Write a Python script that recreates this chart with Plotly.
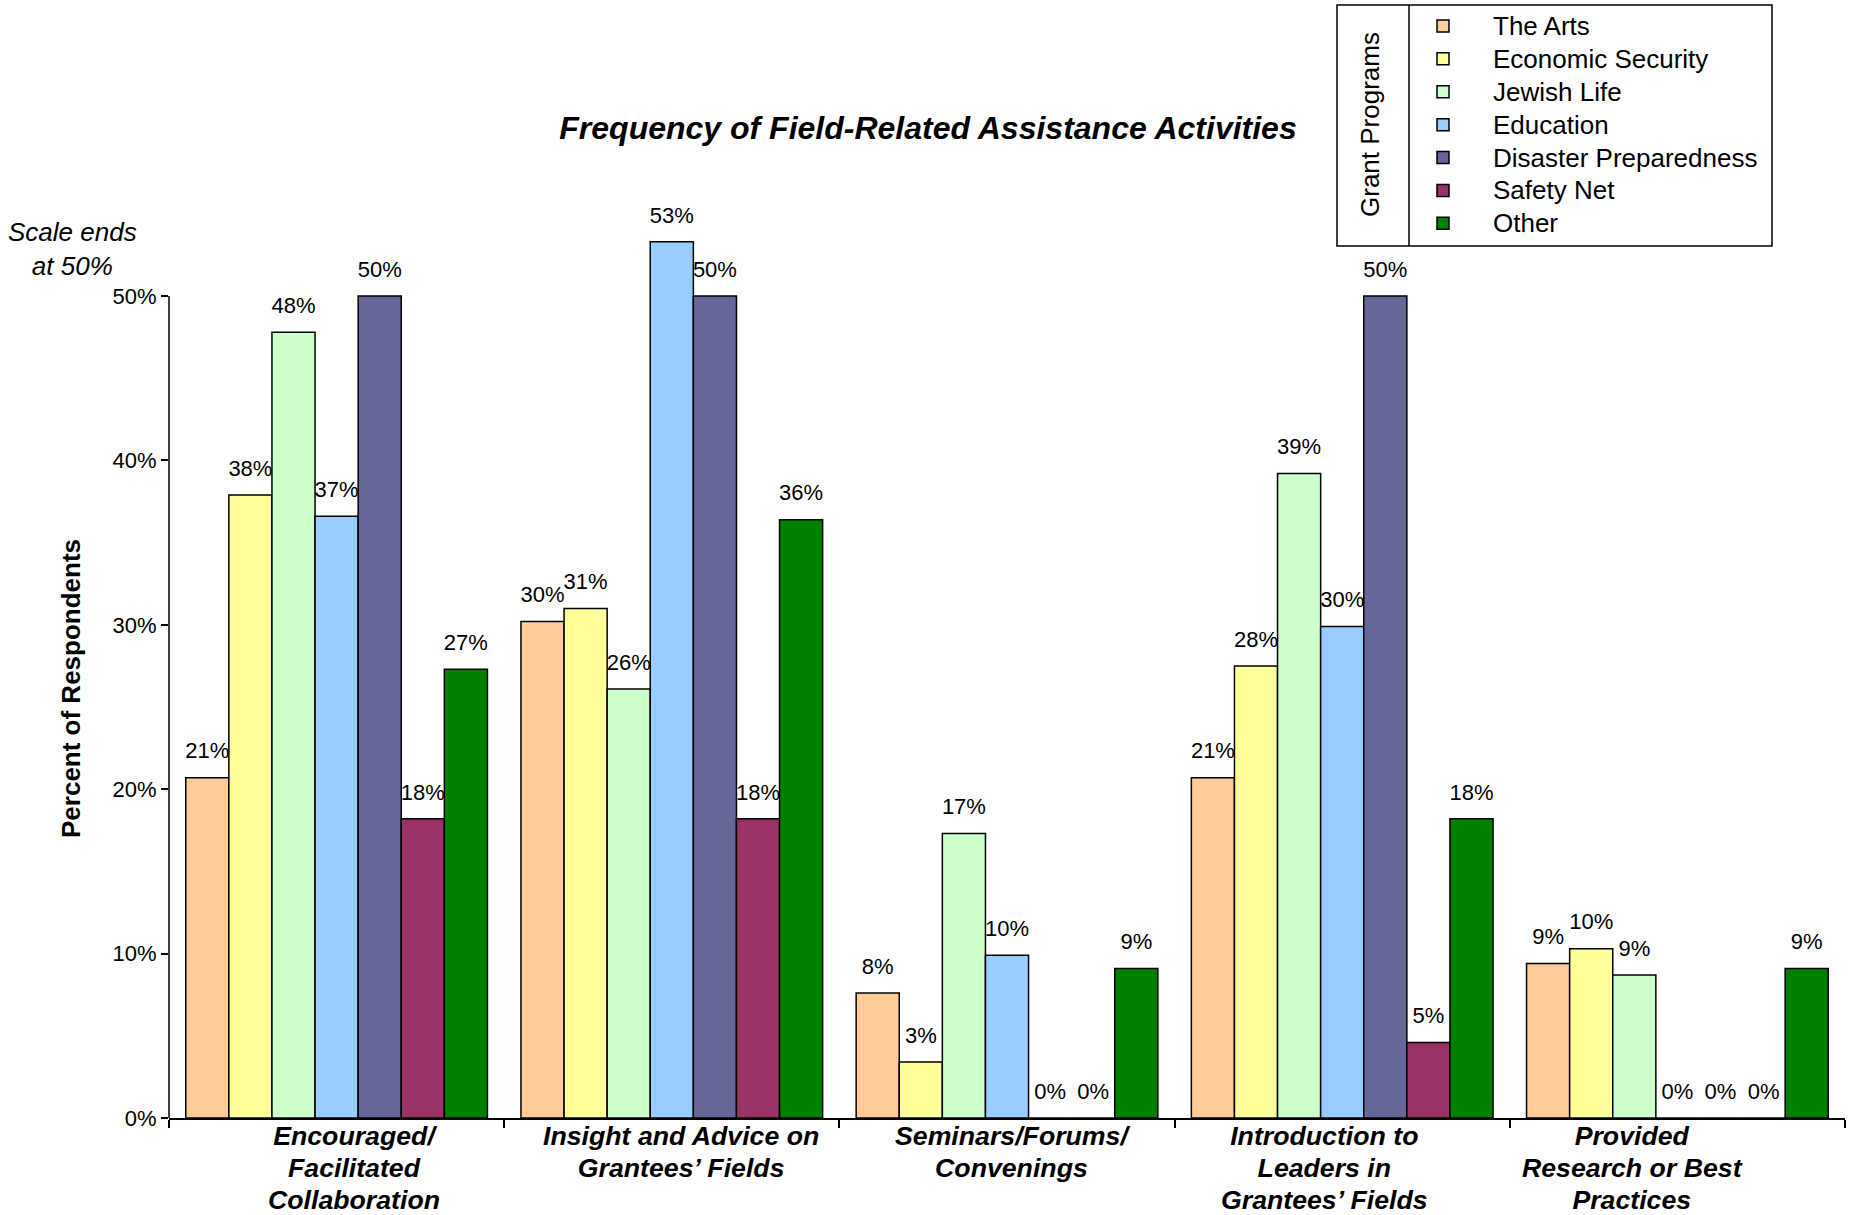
import plotly.graph_objects as go

categories = [
    "Encouraged/<br>Facilitated<br>Collaboration",
    "Insight and Advice on<br>Grantees’ Fields",
    "Seminars/Forums/<br>Convenings",
    "Introduction to<br>Leaders in<br>Grantees’ Fields",
    "Provided<br>Research or Best<br>Practices",
]
label_shift = [17, 9, 5, -18, -45]  # horizontal offset of each category label (px)
series_names = ["The Arts", "Economic Security", "Jewish Life", "Education",
                "Disaster Preparedness", "Safety Net", "Other"]
arts = [20.7, 30.2, 7.6, 20.7, 9.4]
econ = [37.9, 31.0, 3.4, 27.5, 10.3]
jewish = [47.8, 26.1, 17.3, 39.2, 8.7]
education = [36.6, 53.3, 9.9, 29.9, 0]
disaster = [50.0, 50.0, 0, 50.0, 0]
safety = [18.2, 18.2, 0, 4.6, 0]
other = [27.3, 36.4, 9.1, 18.2, 9.1]
series_values = [arts, econ, jewish, education, disaster, safety, other]
colors = ["#FFCC99", "#FFFF99", "#CCFFCC", "#99CCFF", "#666699", "#993366", "#008000"]
y_ticks = [0, 10, 20, 30, 40, 50]

FONT = "Liberation Sans, Arial, sans-serif"

W, H = 1852, 1215
L, R, B = 169, 7, 97
T = 181
PW, PH = W - L - R, H - T - B


def px(x):
    return (x - L) / PW


def py(y):
    return (H - B - y) / PH


def big(text, size):
    return "<br>".join(f"<span style='font-size:{size}px'>{t}</span>" for t in text.split("<br>"))


fig = go.Figure()
for name, vals, col in zip(series_names, series_values, colors):
    fig.add_trace(go.Bar(
        name=big(name, 26), x=categories, y=vals,
        marker=dict(color=col, line=dict(color="black", width=1.5)),
        texttemplate="<span style='font-size:22px'>%{y:.0f}%</span><br>\u00a0",
        textposition="outside",
        textfont=dict(family=FONT, size=11, color="black"),
        constraintext="none", cliponaxis=False,
    ))

fig.update_layout(
    width=W, height=H,
    margin=dict(l=L, r=R, t=T, b=B, autoexpand=False),
    template="none",
    paper_bgcolor="white", plot_bgcolor="white",
    barmode="group", bargap=0.1, bargroupgap=0,
    font=dict(family=FONT, color="black"),
    showlegend=True,
    legend=dict(
        x=px(1393), xanchor="left", y=py(4.5), yanchor="top",
        bgcolor="rgba(0,0,0,0)", borderwidth=0,
        font=dict(family=FONT, size=23, color="black"),
        itemwidth=90, tracegroupgap=0,
    ),
    title=dict(
        text="<b><i>Frequency of Field-Related Assistance Activities</i></b>",
        x=px(928), xanchor="center", xref="paper",
        y=1 - 128 / H, yanchor="middle", yref="container",
        font=dict(family=FONT, size=32, color="black"),
    ),
    xaxis=dict(
        type="category", tickson="boundaries", ticks="outside", ticklen=8,
        tickwidth=1.5, tickcolor="black", showticklabels=False,
        showline=True, linecolor="black", linewidth=1.5,
        showgrid=False, automargin=False,
    ),
    yaxis=dict(
        range=[0, 57], tickvals=y_ticks, ticktext=[f"{v}%" for v in y_ticks],
        ticks="outside", ticklen=7, tickwidth=1.5, tickcolor="black",
        showline=False, showgrid=False, zeroline=False, automargin=False,
        tickfont=dict(family=FONT, size=22, color="black"),
    ),
)

for cat, shift in zip(categories, label_shift):
    fig.add_annotation(
        text=big(f"<b><i>{cat}</i></b>".replace("<br>", "</i></b><br><b><i>"), 26.7),
        x=cat, xref="x", y=0, yref="y", xanchor="center", yanchor="top",
        xshift=shift, yshift=-1, showarrow=False, align="center",
        font=dict(family=FONT, size=24.5, color="black"),
    )

fig.add_shape(type="line", xref="paper", yref="y", x0=0, x1=0, y0=0, y1=50,
              line=dict(color="black", width=1.5))
fig.add_shape(type="rect", xref="paper", yref="paper",
              x0=px(1337), x1=px(1772), y0=py(246), y1=py(5),
              line=dict(color="black", width=1.5))
fig.add_shape(type="line", xref="paper", yref="paper",
              x0=px(1409), x1=px(1409), y0=py(246), y1=py(5),
              line=dict(color="black", width=1.5))
fig.add_annotation(text="Grant Programs", xref="paper", yref="paper",
                   x=px(1370), y=py(125), xanchor="center", yanchor="middle",
                   textangle=-90, showarrow=False,
                   font=dict(family=FONT, size=26, color="black"))
fig.add_annotation(text="<b>Percent of Respondents</b>", xref="paper", yref="paper",
                   x=px(71), y=py(689), xanchor="center", yanchor="middle",
                   textangle=-90, showarrow=False,
                   font=dict(family=FONT, size=26, color="black"))
fig.add_annotation(text="<i>Scale ends<br>at 50%</i>", xref="paper", yref="paper",
                   x=px(72), y=py(249), xanchor="center", yanchor="middle",
                   showarrow=False, align="center",
                   font=dict(family=FONT, size=26, color="black"))

fig.write_html("out.html", config={"displayModeBar": False},
               post_script="document.body.style.margin='0px';")
